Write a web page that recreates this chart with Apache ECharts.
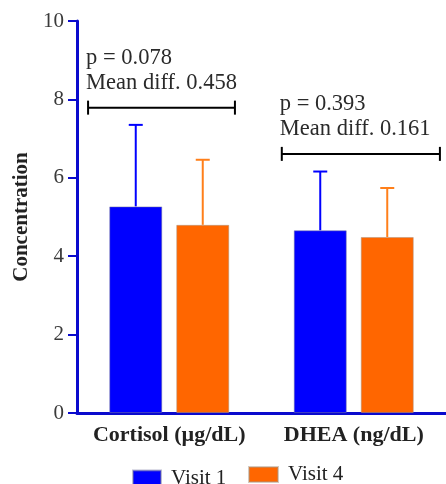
<!DOCTYPE html>
<html>
<head>
<meta charset="utf-8">
<script src="https://cdn.jsdelivr.net/npm/echarts@6/dist/echarts.min.js"></script>
<style>
  html, body { margin: 0; padding: 0; background: #fff; }
  #chart { width: 446px; height: 484px; }
</style>
</head>
<body>
<div id="chart"></div>
<script>
// values
const categories = ['Cortisol (µg/dL)', 'DHEA (ng/dL)'];
const visit1Mean = [5.27, 4.66];
const visit4Mean = [4.80, 4.49];
const visit1Upper = [7.35, 6.16];
const visit4Upper = [6.46, 5.74];

// comparison brackets, x in category units (0..2 across the plot)
const bracketY = [7.79, 6.61];
const bracketStart = [0.06, 1.11];
const bracketEnd = [0.856, 1.967];
const pValues = ['0.078', '0.393'];
const meanDiffs = ['0.458', '0.161'];

const SERIF = "'Liberation Serif', 'Times New Roman', serif";
const AXIS_BLUE = '#0a0acd';
const BLUE = '#0000ff';
const ORANGE = '#ff6600';
const BAR_W = 53;
const BAR_GAP_PX = 14;
const HALF_STEP = (BAR_W + BAR_GAP_PX) / 2;

const chart = echarts.init(document.getElementById('chart'));

// error bar: vertical stem from the mean up to the upper value plus a cap
function errorBar(offset, color) {
  return function (params, api) {
    const x = api.coord([api.value(0), 0])[0] + offset;
    const yLow = api.coord([api.value(0), api.value(1)])[1];
    const yHigh = api.coord([api.value(0), api.value(2)])[1];
    const lineStyle = { stroke: color, lineWidth: 2 };
    return {
      type: 'group',
      children: [
        { type: 'line', shape: { x1: x, y1: yLow, x2: x, y2: yHigh }, style: lineStyle },
        { type: 'line', shape: { x1: x - 7, y1: yHigh, x2: x + 7, y2: yHigh }, style: lineStyle }
      ]
    };
  };
}

function bracket(params, api) {
  const p1 = api.coord([api.value(0), api.value(2)]);
  const p2 = api.coord([api.value(1), api.value(2)]);
  const i = params.dataIndex;
  const style = { stroke: '#000', lineWidth: 2 };
  return {
    type: 'group',
    children: [
      { type: 'line', shape: { x1: p1[0], y1: p1[1], x2: p2[0], y2: p2[1] }, style },
      { type: 'line', shape: { x1: p1[0], y1: p1[1] - 7, x2: p1[0], y2: p1[1] + 7 }, style },
      { type: 'line', shape: { x1: p2[0], y1: p2[1] - 7, x2: p2[0], y2: p2[1] + 7 }, style },
      {
        type: 'text',
        style: {
          text: 'p = ' + pValues[i] + '\nMean diff. ' + meanDiffs[i],
          x: p1[0] - 2,
          y: p1[1] - 12,
          align: 'left',
          verticalAlign: 'bottom',
          font: '22.5px ' + SERIF,
          lineHeight: 25,
          fill: '#2a2a2a'
        }
      }
    ]
  };
}

const legendText = { fontFamily: SERIF, fontSize: 21, color: '#222', padding: [0, 0, 0, 5] };

chart.setOption({
  animation: false,
  grid: { left: 77, right: -2, top: 21, bottom: 71 },
  legend: [
    {
      data: ['Visit 1'], left: 127, top: 463, itemWidth: 28, itemHeight: 16,
      icon: 'rect', textStyle: legendText
    },
    {
      data: ['Visit 4'], left: 243, top: 459, itemWidth: 29, itemHeight: 15,
      icon: 'rect', textStyle: legendText
    }
  ],
  xAxis: [
    {
      type: 'category',
      data: categories,
      axisLine: { lineStyle: { color: AXIS_BLUE, width: 3 } },
      axisTick: { show: false },
      axisLabel: {
        interval: 0, margin: 11, fontFamily: SERIF, fontSize: 22, fontWeight: 'bold', color: '#222'
      }
    },
    { type: 'value', min: 0, max: 2, show: false }
  ],
  yAxis: {
    type: 'value',
    min: 0,
    max: 10,
    interval: 2,
    name: 'Concentration',
    nameLocation: 'middle',
    nameGap: 43,
    nameTextStyle: { fontFamily: SERIF, fontSize: 21, fontWeight: 'bold', color: '#222' },
    axisLine: { show: true, lineStyle: { color: AXIS_BLUE, width: 3 } },
    axisTick: { show: true, length: 9, lineStyle: { color: AXIS_BLUE, width: 2 } },
    axisLabel: { margin: 13, fontFamily: SERIF, fontSize: 21, color: '#3a3a3a' },
    splitLine: { show: false }
  },
  series: [
    {
      name: 'Visit 1', type: 'bar', data: visit1Mean, barWidth: BAR_W,
      barGap: (BAR_GAP_PX / BAR_W * 100) + '%',
      itemStyle: { color: BLUE, borderColor: 'rgba(120,120,160,0.5)', borderWidth: 1 }
    },
    {
      name: 'Visit 4', type: 'bar', data: visit4Mean, barWidth: BAR_W,
      itemStyle: { color: ORANGE, borderColor: 'rgba(170,150,130,0.5)', borderWidth: 1 }
    },
    {
      type: 'custom', clip: false, silent: true,
      renderItem: errorBar(-HALF_STEP, BLUE),
      data: categories.map((c, i) => [i, visit1Mean[i], visit1Upper[i]]),
      z: 1
    },
    {
      type: 'custom', clip: false, silent: true,
      renderItem: errorBar(HALF_STEP, '#ff7f1a'),
      data: categories.map((c, i) => [i, visit4Mean[i], visit4Upper[i]]),
      z: 1
    },
    {
      type: 'custom', clip: false, silent: true,
      xAxisIndex: 1,
      renderItem: bracket,
      data: bracketY.map((y, i) => [bracketStart[i], bracketEnd[i], y])
    }
  ]
});
</script>
</body>
</html>
